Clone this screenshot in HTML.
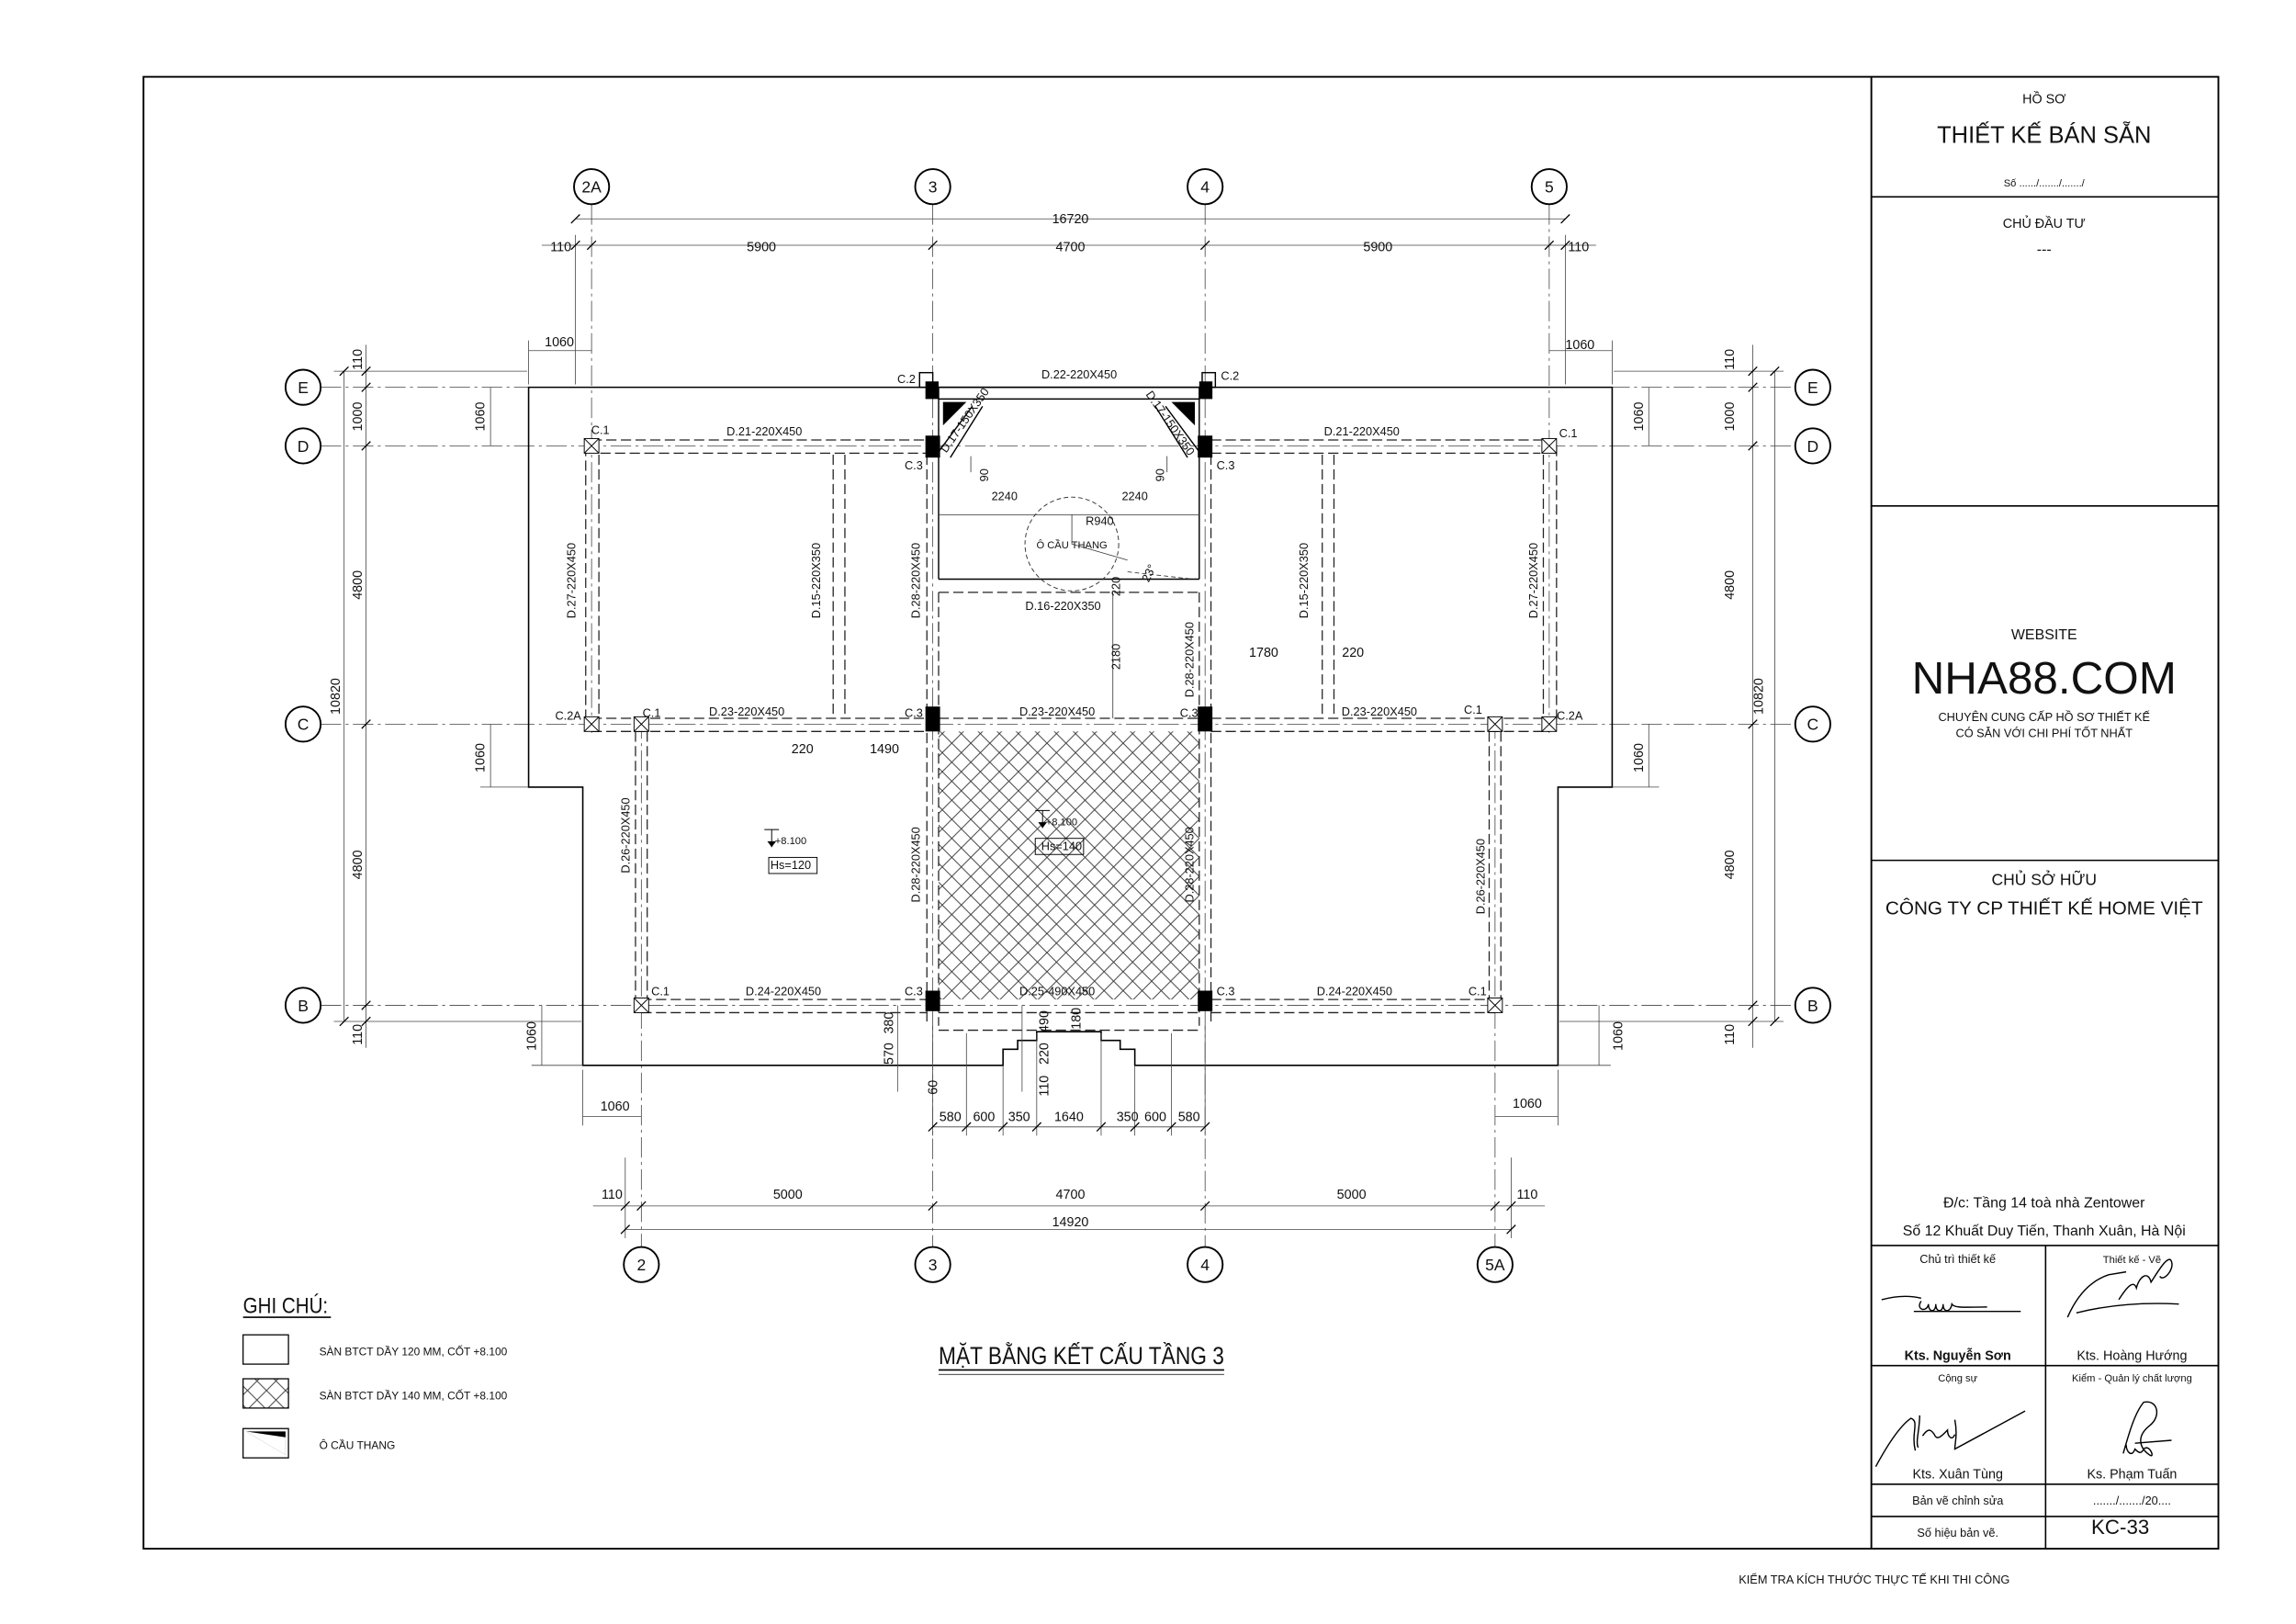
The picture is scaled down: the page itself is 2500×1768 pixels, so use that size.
<!DOCTYPE html>
<html><head><meta charset="utf-8"><style>
html,body{margin:0;padding:0;background:#fff}
svg{display:block}
text{font-family:"Liberation Sans Narrow","Liberation Sans",sans-serif;fill:#111}
.t{font-family:"Liberation Sans",sans-serif}
</style></head><body>
<svg width="2500" height="1768" viewBox="0 0 1568 1108" xmlns="http://www.w3.org/2000/svg">
<defs>
<pattern id="hx" width="13" height="13" patternUnits="userSpaceOnUse">
<path d="M0 0L13 13M13 0L0 13" stroke="#333" stroke-width="0.6"/>
</pattern>
</defs>
<rect width="1568" height="1108" fill="#fff"/>
<!-- frame -->
<rect x="98" y="52" width="1417" height="1005" fill="none" stroke="#000" stroke-width="1.2"/>
<line x1="1278" y1="52" x2="1278" y2="1057" stroke="#000" stroke-width="1.2"/>
<g stroke="#000" stroke-width="1">
<line x1="1278" y1="134" x2="1515" y2="134"/>
<line x1="1278" y1="345" x2="1515" y2="345"/>
<line x1="1278" y1="587" x2="1515" y2="587"/>
<line x1="1278" y1="850" x2="1515" y2="850"/>
<line x1="1278" y1="932" x2="1515" y2="932"/>
<line x1="1278" y1="1013" x2="1515" y2="1013"/>
<line x1="1278" y1="1035" x2="1515" y2="1035"/>
<line x1="1397" y1="850" x2="1397" y2="1057"/>
</g>
<g class="t" text-anchor="middle">
<text class="t" x="1396" y="70" font-size="9">HỒ SƠ</text>
<text class="t" x="1396" y="97" font-size="16">THIẾT KẾ BÁN SẴN</text>
<text class="t" x="1396" y="127" font-size="7">Số ....../......./......./</text>
<text class="t" x="1396" y="155" font-size="9">CHỦ ĐẦU TƯ</text>
<text class="t" x="1396" y="173" font-size="10">---</text>
<text class="t" x="1396" y="436" font-size="10">WEBSITE</text>
<text class="t" x="1396" y="473" font-size="31">NHA88.COM</text>
<text class="t" x="1396" y="492" font-size="8">CHUYÊN CUNG CẤP HỒ SƠ THIẾT KẾ</text>
<text class="t" x="1396" y="503" font-size="8">CÓ SẴN VỚI CHI PHÍ TỐT NHẤT</text>
<text class="t" x="1396" y="604" font-size="11">CHỦ SỞ HỮU</text>
<text class="t" x="1396" y="624" font-size="13">CÔNG TY CP THIẾT KẾ HOME VIỆT</text>
<text class="t" x="1396" y="824" font-size="10">Đ/c: Tầng 14 toà nhà Zentower</text>
<text class="t" x="1396" y="843" font-size="10">Số 12 Khuất Duy Tiến, Thanh Xuân, Hà Nội</text>
<text class="t" x="1337" y="862" font-size="8">Chủ trì thiết kế</text>
<text class="t" x="1456" y="862" font-size="7">Thiết kế - Vẽ</text>
<text class="t" x="1337" y="928" font-size="9" font-weight="bold">Kts. Nguyễn Sơn</text>
<text class="t" x="1456" y="928" font-size="9">Kts. Hoàng Hướng</text>
<text class="t" x="1337" y="943" font-size="7">Cộng sự</text>
<text class="t" x="1456" y="943" font-size="7">Kiểm - Quản lý chất lượng</text>
<text class="t" x="1337" y="1009" font-size="9">Kts. Xuân Tùng</text>
<text class="t" x="1456" y="1009" font-size="9">Ks. Phạm Tuấn</text>
<text class="t" x="1337" y="1027" font-size="8">Bản vẽ chỉnh sửa</text>
<text class="t" x="1456" y="1027" font-size="8">......./......./20....</text>
<text class="t" x="1337" y="1049" font-size="8">Số hiệu bản vẽ.</text>
<text class="t" x="1448" y="1047" font-size="14">KC-33</text>
<text class="t" x="1280" y="1081" font-size="8">KIỂM TRA KÍCH THƯỚC THỰC TẾ KHI THI CÔNG</text>
</g>
<!-- signatures -->
<g fill="none" stroke="#000" stroke-width="0.9">
<path d="M1285 887Q1300 883 1312 886M1312 888c-4 6 4 8 5 2c0 6 5 6 5 0c0 6 5 6 5 0c0 6 5 6 6 0c2 3 10 2 24 2M1307 895L1380 895"/>
<path d="M1412 899Q1422 876 1440 870L1452 868M1447 887c5-8 10-14 12-8c2-8 8-12 10-4c4-6 12-20 14-14c2 6-6 14-8 10M1418 896Q1450 888 1488 890"/>
<path d="M1281 1001Q1295 975 1305 968c6 2 0 10 3 22M1311 966c0 10-3 18-1 22M1313 980c4-6 6-4 8-1c2 5 6 0 9-3c0 4 3 8 5 3M1335 969c2 10 0 16 0 20L1383 963"/>
<path d="M1450 992c4-14 8-28 14-35c10-2 12 10 4 16c-10 8-6 16 0 20c4 3 0-8-4-4c-2 4-4 2-6 0c-2 6-6 2-6-3M1458 985L1483 983"/>
</g>
<!-- legend -->
<text x="166" y="896" font-size="15" textLength="58" lengthAdjust="spacingAndGlyphs">GHI CHÚ:</text>
<line x1="166" y1="899" x2="226" y2="899" stroke="#000"/>
<rect x="166" y="911" width="31" height="20" fill="#fff" stroke="#000" stroke-width="0.8"/>
<rect x="166" y="941" width="31" height="20" fill="url(#hx)" stroke="#000" stroke-width="0.8"/>
<rect x="166" y="975" width="31" height="20" fill="#fff" stroke="#000" stroke-width="0.8"/>
<path d="M168 977L195 977L195 993Z" fill="#000"/>
<path d="M168 977L195 981L195 993" fill="#fff"/>
<text x="218" y="925" font-size="7.5">SÀN BTCT DẦY 120 MM, CỐT +8.100</text>
<text x="218" y="955" font-size="7.5">SÀN BTCT DẦY 140 MM, CỐT +8.100</text>
<text x="218" y="989" font-size="7.5">Ô CẦU THANG</text>
<text x="641" y="931" font-size="17" textLength="195" lengthAdjust="spacingAndGlyphs">MẶT BẰNG KẾT CẤU TẦNG 3</text>
<line x1="641" y1="935" x2="836" y2="935" stroke="#000" stroke-width="1"/>
<line x1="641" y1="938" x2="836" y2="938" stroke="#000" stroke-width="0.5"/>

<!-- grid axes -->
<g stroke="#444" stroke-width="0.5" stroke-dasharray="14 3 2 3">
<line x1="404" y1="139" x2="404" y2="500"/>
<line x1="637" y1="139" x2="637" y2="851"/>
<line x1="823" y1="139" x2="823" y2="851"/>
<line x1="1058" y1="139" x2="1058" y2="500"/>
<line x1="438" y1="490" x2="438" y2="851"/>
<line x1="1021" y1="490" x2="1021" y2="851"/>
<line x1="219" y1="264" x2="1226" y2="264"/>
<line x1="219" y1="304" x2="1226" y2="304"/>
<line x1="219" y1="494" x2="1226" y2="494"/>
<line x1="219" y1="686" x2="1226" y2="686"/>
</g>
<!-- bubbles -->
<g fill="#fff" stroke="#000" stroke-width="1.2">
<circle cx="404" cy="127" r="12"/><circle cx="637" cy="127" r="12"/><circle cx="823" cy="127" r="12"/><circle cx="1058" cy="127" r="12"/>
<circle cx="438" cy="863" r="12"/><circle cx="637" cy="863" r="12"/><circle cx="823" cy="863" r="12"/><circle cx="1021" cy="863" r="12"/>
<circle cx="207" cy="264" r="12"/><circle cx="207" cy="304" r="12"/><circle cx="207" cy="494" r="12"/><circle cx="207" cy="686" r="12"/>
<circle cx="1238" cy="264" r="12"/><circle cx="1238" cy="304" r="12"/><circle cx="1238" cy="494" r="12"/><circle cx="1238" cy="686" r="12"/>
</g>
<g class="t" font-size="11" text-anchor="middle">
<text class="t" x="404" y="131">2A</text><text class="t" x="637" y="131">3</text><text class="t" x="823" y="131">4</text><text class="t" x="1058" y="131">5</text>
<text class="t" x="438" y="867">2</text><text class="t" x="637" y="867">3</text><text class="t" x="823" y="867">4</text><text class="t" x="1021" y="867">5A</text>
<text class="t" x="207" y="268">E</text><text class="t" x="207" y="308">D</text><text class="t" x="207" y="498">C</text><text class="t" x="207" y="690">B</text>
<text class="t" x="1238" y="268">E</text><text class="t" x="1238" y="308">D</text><text class="t" x="1238" y="498">C</text><text class="t" x="1238" y="690">B</text>
</g>

<!-- outline -->
<path d="M361 264H1101V537H1064V727H775V716H765V710H752V704H708V710H695V716H685V727H398V537H361Z" fill="none" stroke="#000" stroke-width="1"/>
<!-- hatched -->
<rect x="641" y="499" width="178" height="183" fill="url(#hx)"/>

<!-- beams dashed -->
<g stroke="#222" stroke-width="0.8" stroke-dasharray="7 3" fill="none">
<line x1="404" y1="300" x2="633" y2="300"/><line x1="410" y1="309" x2="633" y2="309"/>
<line x1="827" y1="300" x2="1058" y2="300"/><line x1="827" y1="309" x2="1052" y2="309"/>
<line x1="404" y1="490" x2="633" y2="490"/><line x1="404" y1="499" x2="633" y2="499"/>
<line x1="827" y1="490" x2="1058" y2="490"/><line x1="827" y1="499" x2="1058" y2="499"/>
<line x1="641" y1="490" x2="819" y2="490"/><line x1="641" y1="404" x2="819" y2="404"/>
<line x1="438" y1="682" x2="633" y2="682"/><line x1="438" y1="691" x2="633" y2="691"/>
<line x1="827" y1="682" x2="1021" y2="682"/><line x1="827" y1="691" x2="1021" y2="691"/>
<line x1="641" y1="691" x2="819" y2="691"/><line x1="641" y1="703" x2="819" y2="703"/>
<line x1="400" y1="304" x2="400" y2="494"/><line x1="409" y1="310" x2="409" y2="490"/>
<line x1="1054" y1="310" x2="1054" y2="490"/><line x1="1063" y1="304" x2="1063" y2="494"/>
<line x1="569" y1="310" x2="569" y2="490"/><line x1="577" y1="310" x2="577" y2="490"/>
<line x1="903" y1="310" x2="903" y2="490"/><line x1="911" y1="310" x2="911" y2="490"/>
<line x1="633" y1="310" x2="633" y2="700"/><line x1="641" y1="404" x2="641" y2="700"/>
<line x1="819" y1="404" x2="819" y2="700"/><line x1="827" y1="310" x2="827" y2="700"/>
<line x1="434" y1="499" x2="434" y2="686"/><line x1="442" y1="499" x2="442" y2="682"/>
<line x1="1017" y1="499" x2="1017" y2="682"/><line x1="1025" y1="499" x2="1025" y2="686"/>
</g>
<!-- stair void -->
<g stroke="#000" stroke-width="0.9" fill="none">
<line x1="641" y1="264" x2="819" y2="264"/><line x1="641" y1="272" x2="819" y2="272"/>
<line x1="641" y1="264" x2="641" y2="395"/><line x1="819" y1="264" x2="819" y2="395"/>
<line x1="641" y1="395" x2="819" y2="395"/>
<line x1="641" y1="308" x2="664" y2="277"/><line x1="649" y1="312" x2="671" y2="277"/>
<line x1="819" y1="308" x2="796" y2="277"/><line x1="811" y1="312" x2="789" y2="277"/>
<rect x="628" y="254" width="9" height="10"/>
<rect x="821" y="254" width="9" height="10"/>
</g>
<path d="M644 274L660 274L644 290Z" fill="#000"/>
<path d="M816 274L800 274L816 290Z" fill="#000"/>
<circle cx="732" cy="371" r="32" fill="none" stroke="#333" stroke-width="0.6" stroke-dasharray="3 2"/>
<g stroke="#333" stroke-width="0.5" fill="none">
<line x1="641" y1="351" x2="819" y2="351"/>
<path d="M732 351V371L770 382"/>
<line x1="770" y1="390" x2="815" y2="395" stroke-dasharray="3 2"/>
<line x1="663" y1="311" x2="663" y2="322"/><line x1="797" y1="311" x2="797" y2="322"/>
<line x1="760" y1="404" x2="760" y2="490"/>
</g>
<!-- columns -->
<g fill="#000">
<rect x="632" y="297" width="10" height="15"/><rect x="818" y="297" width="10" height="15"/>
<rect x="632" y="482" width="10" height="17"/><rect x="818" y="482" width="10" height="17"/>
<rect x="632" y="676" width="10" height="14"/><rect x="818" y="676" width="10" height="14"/>
<rect x="632" y="260" width="9" height="12"/><rect x="819" y="260" width="9" height="12"/>
</g>
<!-- C.1 / C.2A markers -->
<g fill="#fff" stroke="#000" stroke-width="0.6">
<g transform="translate(404,304)"><rect x="-5" y="-5" width="10" height="10"/><path d="M-5-5L5 5M5-5L-5 5"/></g>
<g transform="translate(1058,304)"><rect x="-5" y="-5" width="10" height="10"/><path d="M-5-5L5 5M5-5L-5 5"/></g>
<g transform="translate(404,494)"><rect x="-5" y="-5" width="10" height="10"/><path d="M-5-5L5 5M5-5L-5 5"/></g>
<g transform="translate(1058,494)"><rect x="-5" y="-5" width="10" height="10"/><path d="M-5-5L5 5M5-5L-5 5"/></g>
<g transform="translate(438,494)"><rect x="-5" y="-5" width="10" height="10"/><path d="M-5-5L5 5M5-5L-5 5"/></g>
<g transform="translate(1021,494)"><rect x="-5" y="-5" width="10" height="10"/><path d="M-5-5L5 5M5-5L-5 5"/></g>
<g transform="translate(438,686)"><rect x="-5" y="-5" width="10" height="10"/><path d="M-5-5L5 5M5-5L-5 5"/></g>
<g transform="translate(1021,686)"><rect x="-5" y="-5" width="10" height="10"/><path d="M-5-5L5 5M5-5L-5 5"/></g>
</g>
<!-- beam/column labels -->
<g font-size="8" text-anchor="middle">
<text x="522" y="297">D.21-220X450</text><text x="930" y="297">D.21-220X450</text>
<text x="737" y="258">D.22-220X450</text>
<text x="510" y="488">D.23-220X450</text><text x="722" y="488">D.23-220X450</text><text x="942" y="488">D.23-220X450</text>
<text x="726" y="416">D.16-220X350</text>
<text x="535" y="679">D.24-220X450</text><text x="722" y="679">D.25-490X450</text><text x="925" y="679">D.24-220X450</text>
<text x="410" y="296">C.1</text><text x="1071" y="298">C.1</text>
<text x="388" y="491">C.2A</text><text x="1072" y="491">C.2A</text>
<text x="445" y="489">C.1</text><text x="1006" y="487">C.1</text>
<text x="451" y="679">C.1</text><text x="1009" y="679">C.1</text>
<text x="624" y="320">C.3</text><text x="837" y="320">C.3</text>
<text x="624" y="489">C.3</text><text x="812" y="489">C.3</text>
<text x="624" y="679">C.3</text><text x="837" y="679">C.3</text>
<text x="619" y="261">C.2</text><text x="840" y="259">C.2</text>
<text x="732" y="374" font-size="7">Ô CẦU THANG</text>
<text x="751" y="358" font-size="8" fill="#444">R940</text>
<text x="686" y="341" fill="#444">2240</text><text x="775" y="341" fill="#444">2240</text>
<text x="863" y="448" fill="#444" font-size="9">1780</text><text x="924" y="448" fill="#444" font-size="9">220</text>
<text x="548" y="514" fill="#444" font-size="9">220</text><text x="604" y="514" fill="#444" font-size="9">1490</text>
<text x="540" y="576" font-size="7">+8.100</text><text x="540" y="593" font-size="8">Hs=120</text>
<text x="725" y="563" font-size="7">+8.100</text><text x="725" y="580" font-size="8">Hs=140</text>
</g>
<rect x="525" y="585" width="33" height="11" fill="none" stroke="#000" stroke-width="0.6"/>
<rect x="707" y="572" width="33" height="11" fill="none" stroke="#000" stroke-width="0.6"/>
<path d="M527 566v12M522 566h10" stroke="#000" stroke-width="0.6"/><path d="M524 574l3 4l3-4z"/>
<path d="M712 553v12M707 553h10" stroke="#000" stroke-width="0.6"/><path d="M709 561l3 4l3-4z"/>
<g font-size="8" text-anchor="middle">
<text transform="translate(393,396) rotate(-90)">D.27-220X450</text>
<text transform="translate(1050,396) rotate(-90)">D.27-220X450</text>
<text transform="translate(560,396) rotate(-90)">D.15-220X350</text>
<text transform="translate(893,396) rotate(-90)">D.15-220X350</text>
<text transform="translate(628,396) rotate(-90)">D.28-220X450</text>
<text transform="translate(815,450) rotate(-90)">D.28-220X450</text>
<text transform="translate(628,590) rotate(-90)">D.28-220X450</text>
<text transform="translate(815,590) rotate(-90)">D.28-220X450</text>
<text transform="translate(430,570) rotate(-90)">D.26-220X450</text>
<text transform="translate(1014,598) rotate(-90)">D.26-220X450</text>
<text transform="translate(661,288) rotate(-55)">D.17-150X350</text>
<text transform="translate(797,290) rotate(55)">D.17-150X350</text>
<text transform="translate(675,324) rotate(-90)" fill="#444">90</text>
<text transform="translate(795,324) rotate(-90)" fill="#444">90</text>
<text transform="translate(765,400) rotate(-90)" fill="#444">220</text>
<text transform="translate(765,448) rotate(-90)" fill="#444">2180</text>
<text transform="translate(787,392) rotate(-65)" fill="#444">23°</text>
</g>

<!-- dimension lines -->
<g stroke="#444" stroke-width="0.5" fill="none">
<line x1="393" y1="149" x2="1069" y2="149"/>
<line x1="370" y1="167" x2="1090" y2="167"/>
<line x1="393" y1="160" x2="393" y2="262"/><line x1="1069" y1="160" x2="1069" y2="262"/>
<line x1="361" y1="239" x2="404" y2="239"/><line x1="1058" y1="239" x2="1101" y2="239"/>
<line x1="361" y1="232" x2="361" y2="262"/><line x1="1101" y1="232" x2="1101" y2="262"/>
<line x1="405" y1="823" x2="1055" y2="823"/>
<line x1="427" y1="839" x2="1032" y2="839"/>
<line x1="427" y1="790" x2="427" y2="845"/><line x1="1032" y1="790" x2="1032" y2="845"/>
<line x1="398" y1="762" x2="438" y2="762"/><line x1="1021" y1="762" x2="1064" y2="762"/>
<line x1="398" y1="730" x2="398" y2="768"/><line x1="1064" y1="730" x2="1064" y2="768"/>
<line x1="637" y1="769" x2="823" y2="769"/>
<line x1="235" y1="253" x2="235" y2="697"/><line x1="250" y1="235" x2="250" y2="715"/>
<line x1="1212" y1="253" x2="1212" y2="697"/><line x1="1197" y1="235" x2="1197" y2="715"/>
<line x1="228" y1="253" x2="360" y2="253"/><line x1="228" y1="697" x2="397" y2="697"/>
<line x1="1102" y1="253" x2="1218" y2="253"/><line x1="1065" y1="697" x2="1218" y2="697"/>
<line x1="335" y1="264" x2="335" y2="304"/><line x1="1126" y1="264" x2="1126" y2="304"/>
<line x1="335" y1="494" x2="335" y2="537"/><line x1="1126" y1="494" x2="1126" y2="537"/>
<line x1="370" y1="686" x2="370" y2="727"/><line x1="1092" y1="686" x2="1092" y2="727"/>
<line x1="328" y1="537" x2="361" y2="537"/><line x1="1101" y1="537" x2="1133" y2="537"/>
<line x1="363" y1="727" x2="398" y2="727"/><line x1="1064" y1="727" x2="1100" y2="727"/>
<line x1="637" y1="700" x2="637" y2="775"/><line x1="823" y1="700" x2="823" y2="775"/>
<line x1="660" y1="705" x2="660" y2="775"/><line x1="685" y1="727" x2="685" y2="775"/><line x1="708" y1="705" x2="708" y2="775"/>
<line x1="752" y1="705" x2="752" y2="775"/><line x1="775" y1="727" x2="775" y2="775"/><line x1="800" y1="705" x2="800" y2="775"/>
<line x1="613" y1="686" x2="613" y2="745"/><line x1="698" y1="686" x2="698" y2="745"/>
</g>
<g stroke="#000" stroke-width="0.8">
<path d="M390 170l6-6M401 170l6-6M634 170l6-6M820 170l6-6M1055 170l6-6M1066 170l6-6"/>
<path d="M390 152l6-6M1066 152l6-6"/>
<path d="M424 826l6-6M435 826l6-6M634 826l6-6M820 826l6-6M1018 826l6-6M1029 826l6-6"/>
<path d="M424 842l6-6M1029 842l6-6"/>
<path d="M634 772l6-6M657 772l6-6M682 772l6-6M705 772l6-6M749 772l6-6M772 772l6-6M797 772l6-6M820 772l6-6"/>
<path d="M247 256l6-6M247 267l6-6M247 307l6-6M247 497l6-6M247 689l6-6M247 700l6-6M232 256l6-6M232 700l6-6"/>
<path d="M1194 256l6-6M1194 267l6-6M1194 307l6-6M1194 497l6-6M1194 689l6-6M1194 700l6-6M1209 256l6-6M1209 700l6-6"/>
</g>
<g font-size="9" fill="#333" text-anchor="middle">
<text x="731" y="152">16720</text>
<text x="383" y="171">110</text><text x="520" y="171">5900</text><text x="731" y="171">4700</text><text x="941" y="171">5900</text><text x="1078" y="171">110</text>
<text x="382" y="236">1060</text><text x="1079" y="238">1060</text>
<text x="418" y="818">110</text><text x="538" y="818">5000</text><text x="731" y="818">4700</text><text x="923" y="818">5000</text><text x="1043" y="818">110</text>
<text x="731" y="837">14920</text>
<text x="420" y="758">1060</text><text x="1043" y="756">1060</text>
<text x="649" y="765">580</text><text x="672" y="765">600</text><text x="696" y="765">350</text><text x="730" y="765">1640</text><text x="770" y="765">350</text><text x="789" y="765">600</text><text x="812" y="765">580</text>
</g>
<g font-size="9" fill="#333" text-anchor="middle">
<text transform="translate(247,245) rotate(-90)">110</text>
<text transform="translate(247,284) rotate(-90)">1000</text>
<text transform="translate(247,399) rotate(-90)">4800</text>
<text transform="translate(247,590) rotate(-90)">4800</text>
<text transform="translate(247,706) rotate(-90)">110</text>
<text transform="translate(232,475) rotate(-90)">10820</text>
<text transform="translate(1184,245) rotate(-90)">110</text>
<text transform="translate(1184,284) rotate(-90)">1000</text>
<text transform="translate(1184,399) rotate(-90)">4800</text>
<text transform="translate(1184,590) rotate(-90)">4800</text>
<text transform="translate(1184,706) rotate(-90)">110</text>
<text transform="translate(1204,475) rotate(-90)">10820</text>
<text transform="translate(331,284) rotate(-90)">1060</text>
<text transform="translate(1122,284) rotate(-90)">1060</text>
<text transform="translate(331,517) rotate(-90)">1060</text>
<text transform="translate(1122,517) rotate(-90)">1060</text>
<text transform="translate(366,707) rotate(-90)">1060</text>
<text transform="translate(1108,707) rotate(-90)">1060</text>
<text transform="translate(610,698) rotate(-90)">380</text>
<text transform="translate(610,719) rotate(-90)">570</text>
<text transform="translate(640,742) rotate(-90)">60</text>
<text transform="translate(716,697) rotate(-90)">490</text>
<text transform="translate(738,695) rotate(-90)">180</text>
<text transform="translate(716,719) rotate(-90)">220</text>
<text transform="translate(716,741) rotate(-90)">110</text>
</g>
</svg>
</body></html>
